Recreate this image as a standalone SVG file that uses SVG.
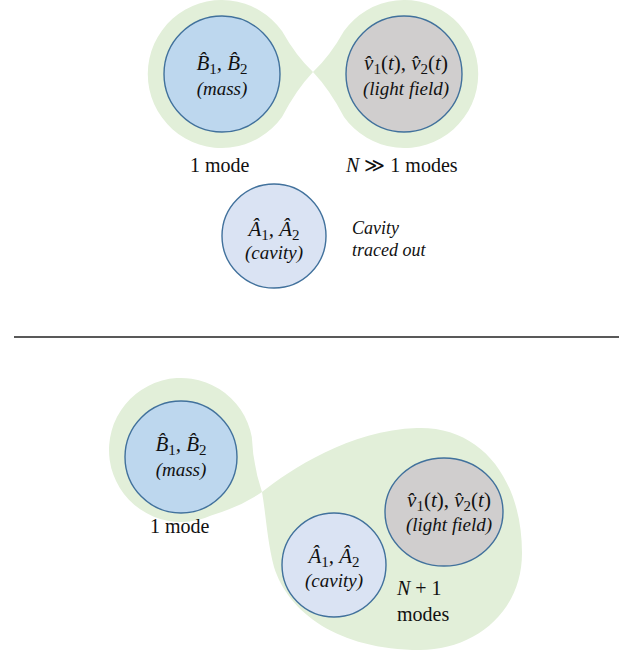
<svg xmlns="http://www.w3.org/2000/svg" width="633" height="656" viewBox="0 0 633 656">
  <style>
    .halo { fill: #E2EFD9; stroke: none; }
    .node { stroke: #41719C; stroke-width: 1.4; }
    .mass { fill: #BDD7EE; }
    .light { fill: #D0CECE; }
    .cav { fill: #DAE3F3; }
    text { font-family: "Liberation Serif", "DejaVu Serif", serif; fill: #111; }
    .math { font-size: 21px; font-style: italic; text-anchor: middle; }
    .sub { font-size: 15px; font-style: normal; }
    .up { font-style: normal; }
    .lab { font-size: 19px; font-style: italic; text-anchor: middle; }
    .note { font-size: 18px; font-style: italic; }
    .mode { font-size: 20px; }
  </style>

  <!-- background halos -->
  <g id="halos">
    <path class="halo" d="M313 72 Q296 56 282 31 A74 74 0 1 0 282 117 Q296 90 313 72 Z"/>
    <path class="halo" d="M313 72 Q330 56 344 31 A74 74 0 1 1 344 117 Q330 90 313 72 Z"/>
    <path class="halo" d="M262 492 Q253 465 251.8 436.9 A72 72 0 1 0 211.1 515.4 Q240 507 262 492 Z"/>
    <path class="halo" d="M262 492 C290 470 350 430 417 428 C482 426 522 480 522 553 C522 612 475 650 420 650 C338 650 288 612 274 567 C267 540 266 515 262 492 Z"/>
  </g>

  <!-- separator -->
  <g id="connectors">
    <line x1="14" y1="337" x2="619" y2="337" stroke="#222" stroke-width="1.5"/>
  </g>

  <!-- top panel -->
  <g id="mass-top">
    <circle class="node mass" cx="222" cy="74" r="58"/>
    <text class="math" x="222" y="70">B̂<tspan class="sub" dy="4">1</tspan><tspan dy="-4">, B̂</tspan><tspan class="sub" dy="4">2</tspan></text>
    <text class="lab" x="222" y="95">(mass)</text>
  </g>
  <g id="light-top">
    <circle class="node light" cx="404" cy="74" r="58"/>
    <text class="math" x="406" y="70">v̂<tspan class="sub" dy="4">1</tspan><tspan class="up" dy="-4">(</tspan>t<tspan class="up">), </tspan>v̂<tspan class="sub" dy="4">2</tspan><tspan class="up" dy="-4">(</tspan>t<tspan class="up">)</tspan></text>
    <text class="lab" x="406" y="95">(light field)</text>
  </g>
  <g id="label-top-1">
    <text class="mode" x="190" y="172">1 mode</text>
  </g>
  <g id="label-top-N">
    <text class="mode" x="346" y="172"><tspan font-style="italic">N</tspan> ≫ 1 modes</text>
  </g>
  <g id="cavity-top">
    <circle class="node cav" cx="274" cy="236" r="52"/>
    <text class="math" x="274" y="236">Â<tspan class="sub" dy="4">1</tspan><tspan dy="-4">, Â</tspan><tspan class="sub" dy="4">2</tspan></text>
    <text class="lab" x="274" y="259">(cavity)</text>
  </g>
  <g id="cavity-note">
    <text class="note" x="352" y="234">Cavity</text>
    <text class="note" x="352" y="256">traced out</text>
  </g>

  <!-- bottom panel -->
  <g id="mass-bottom">
    <circle class="node mass" cx="181" cy="457" r="56"/>
    <text class="math" x="181" y="451">B̂<tspan class="sub" dy="4">1</tspan><tspan dy="-4">, B̂</tspan><tspan class="sub" dy="4">2</tspan></text>
    <text class="lab" x="181" y="476">(mass)</text>
  </g>
  <g id="label-bottom-1">
    <text class="mode" x="150" y="533">1 mode</text>
  </g>
  <g id="light-bottom">
    <ellipse class="node light" cx="444" cy="512" rx="59" ry="54"/>
    <text class="math" x="449" y="507">v̂<tspan class="sub" dy="4">1</tspan><tspan class="up" dy="-4">(</tspan>t<tspan class="up">), </tspan>v̂<tspan class="sub" dy="4">2</tspan><tspan class="up" dy="-4">(</tspan>t<tspan class="up">)</tspan></text>
    <text class="lab" x="449" y="531">(light field)</text>
  </g>
  <g id="cavity-bottom">
    <circle class="node cav" cx="334" cy="565" r="52"/>
    <text class="math" x="334" y="563">Â<tspan class="sub" dy="4">1</tspan><tspan dy="-4">, Â</tspan><tspan class="sub" dy="4">2</tspan></text>
    <text class="lab" x="334" y="587">(cavity)</text>
  </g>
  <g id="label-bottom-N">
    <text class="mode" x="397" y="595"><tspan font-style="italic">N</tspan> + 1</text>
    <text class="mode" x="397" y="621">modes</text>
  </g>
</svg>
